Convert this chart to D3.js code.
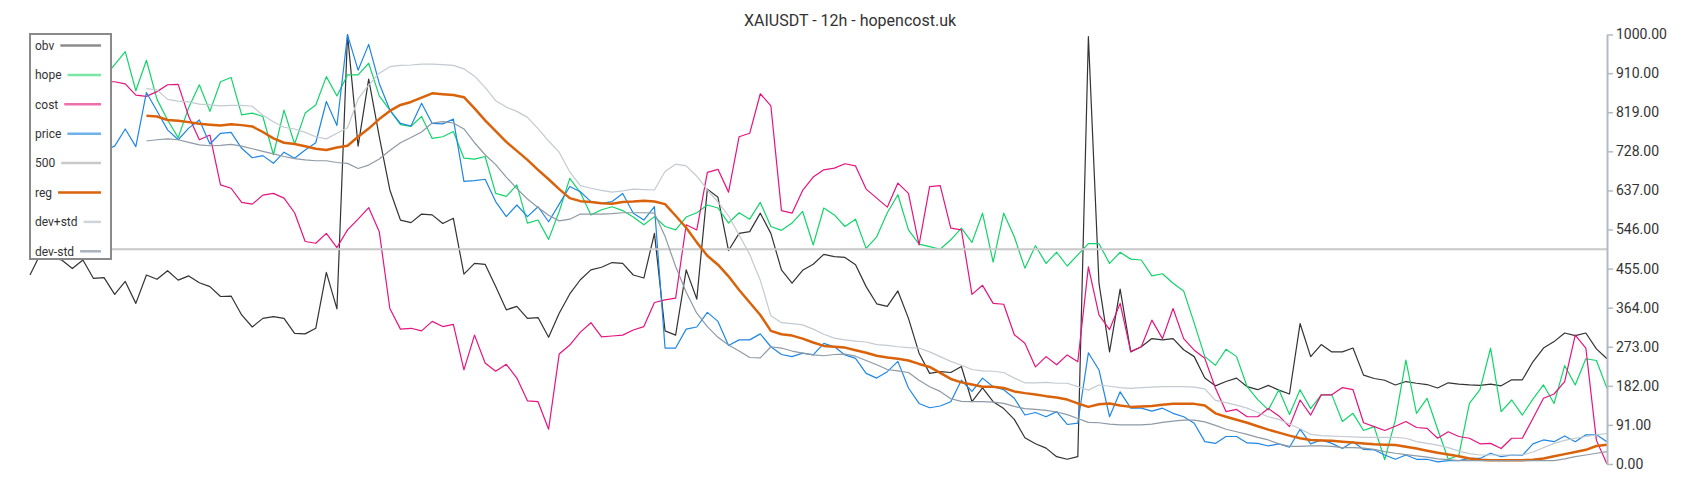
<!DOCTYPE html>
<html><head><meta charset="utf-8">
<script src="https://cdn.jsdelivr.net/npm/d3@7"></script>
<style>body{margin:0;background:#fff}svg{display:block;font-family:Roboto,"Noto Sans",sans-serif}</style>
</head><body><svg id="c" width="1700" height="500"></svg>
<script>
const title = "XAIUSDT - 12h - hopencost.uk";
const obv = [440,490,480,475,455,475,432,434,395,425,
374,440,430,450,428,438,422,413,390,391,
347,319,339,343,339,304,303,316,446,361,
1000,740,896,762,638,568,562,582,580,560,
572,442,467,465,413,359,367,339,341,295,
351,396,429,452,458,469,467,440,433,537,
310,300,452,384,640,621,497,537,541,584,
537,452,421,451,465,488,483,481,464,413,
373,367,403,339,258,211,215,213,227,145,
177,145,129,104,61,47,37,17,11,17,
995,421,261,407,261,273,292,289,292,266,
250,200,182,192,200,180,173,183,172,163,
327,250,278,261,261,270,207,199,195,184,
192,188,185,177,189,186,184,183,186,182,
196,196,238,270,285,305,299,305,268,245];
const hope = [880,900,870,910,860,890,880,900,930,960,
869,940,849,801,760,830,883,821,890,900,
813,817,809,720,824,745,817,836,902,857,
906,906,933,857,824,790,786,809,758,762,
774,712,710,716,630,623,650,561,568,523,
588,665,632,580,592,599,590,575,557,576,
553,545,575,585,603,596,561,585,570,609,
553,544,561,588,510,596,580,553,570,502,
529,585,627,545,512,506,500,522,549,516,
584,470,584,529,456,508,467,493,461,487,
513,513,467,493,477,475,438,443,421,403,
328,250,230,267,250,180,150,126,173,115,
173,129,161,161,99,118,78,87,10,102,
242,118,153,81,11,20,141,173,270,122,
149,114,151,184,141,229,184,245,241,176];
const cost = [870,880,860,890,870,880,875,890,890,885,
859,856,867,883,884,809,755,766,650,642,
609,605,626,630,619,585,518,514,537,504,
545,570,597,541,362,314,316,310,332,320,
325,219,300,235,216,232,200,147,145,81,
256,277,307,329,296,298,300,312,320,376,
382,386,557,545,679,686,633,762,770,862,
834,590,584,637,668,685,689,699,694,640,
619,598,654,630,510,646,648,549,545,395,
416,374,372,301,281,226,250,231,254,238,
459,347,313,374,262,273,335,292,362,292,
265,246,177,122,127,110,110,129,112,87,
149,114,161,161,178,173,96,87,78,88,
99,85,83,60,75,64,60,47,48,36,
60,60,106,153,163,192,300,270,55,0];
const price = [760,780,750,790,770,740,760,730,740,780,
739,865,822,778,755,782,801,745,770,772,
735,713,718,700,726,712,731,748,844,788,
999,917,977,886,824,793,787,840,793,792,
803,658,660,663,611,576,603,576,599,564,
605,646,634,611,607,611,630,584,568,599,
270,270,314,319,353,332,276,289,289,303,
273,255,250,258,254,281,273,254,246,211,
200,215,239,177,141,131,135,145,195,169,
200,180,173,153,114,120,110,122,92,95,
259,219,110,168,130,130,123,130,118,110,
95,52,48,64,64,49,48,42,47,39,
81,47,56,48,36,52,34,33,21,11,
21,11,11,5,8,8,13,13,25,17,
21,20,47,56,52,65,52,68,68,52];
const level500 = 500;
const reg = [null,null,null,null,null,null,null,null,null,null,null,
811,809,801,799,796,792,790,788,791,
789,786,773,758,748,745,740,734,731,737,
741,762,781,803,822,836,843,853,863,861,
859,854,828,800,775,750,729,708,685,663,
640,619,612,610,607,606,610,611,613,611,
605,578,550,516,485,464,437,405,376,347,
310,302,299,292,283,275,273,271,265,259,
252,248,245,241,233,226,212,198,190,185,
180,180,177,169,165,162,158,155,150,141,
133,139,141,136,133,134,135,138,140,140,
140,136,118,110,103,96,88,80,73,66,
60,56,55,54,52,50,48,46,45,44,
40,36,31,26,22,18,13,10,9,9,
9,9,10,13,18,23,28,33,42,45];
const devPlus = [null,null,null,null,null,null,null,null,null,null,null,
874,871,849,845,843,838,836,834,835,
835,833,812,797,784,780,772,762,757,770,
783,850,882,910,925,928,929,931,931,930,
928,920,903,877,846,831,821,807,781,752,
726,680,648,642,637,633,636,640,639,638,
681,698,694,670,638,610,578,533,488,428,
345,329,327,324,314,302,293,289,286,284,
278,276,273,271,270,261,250,239,230,220,
217,216,213,200,189,189,190,188,188,180,
172,184,181,178,176,178,179,180,180,180,
179,175,148,143,137,130,120,110,104,93,
82,69,66,65,64,63,62,62,62,62,
60,52,48,44,38,30,24,21,21,21,
21,21,28,38,48,55,60,64,68,71];
const devMinus = [null,null,null,null,null,null,null,null,null,null,null,
752,755,757,755,749,743,741,742,744,
740,734,728,722,716,711,708,706,706,702,
700,688,696,710,730,748,760,773,794,797,
794,780,748,720,697,668,641,617,597,579,
566,570,582,582,582,583,585,585,585,584,
530,460,400,351,320,295,277,263,248,247,
273,270,263,258,254,252,255,256,251,241,
231,220,217,213,195,180,169,152,146,145,
145,144,141,134,129,127,125,121,115,106,
97,96,93,91,91,91,93,97,100,102,
102,98,90,81,75,69,62,56,47,41,
41,42,42,41,38,38,37,34,29,25,
22,19,16,12,10,8,8,8,8,8,
8,8,8,8,8,12,17,21,25,29];
const tickValues = [0,91,182,273,364,455,546,637,728,819,910,1000];
const legendNames = ["obv","hope","cost","price","500","reg","dev+std","dev-std"];

const svg = d3.select("#c");
const N = obv.length;
const x = d3.scaleLinear().domain([0, N - 1]).range([30, 1607]);
const y = d3.scaleLinear().domain([0, 1000]).range([464, 34.5]);

svg.append("rect").attr("width",1700).attr("height",500).attr("fill","#fff");
svg.append("text").attr("x",850).attr("y",26).attr("text-anchor","middle")
  .attr("font-size",16).attr("fill","#333").text(title);

const line = d3.line().defined(d => d != null).x((d,i) => x(i)).y(d => y(d));
function draw(data, color, w) {
  svg.append("path").datum(data).attr("d", line).attr("fill","none")
    .attr("stroke", color).attr("stroke-width", w).attr("stroke-linejoin","round");
}
draw(obv, "#333333", 1.2);
draw(hope, "#12d46a", 1.2);
draw(cost, "#e5147f", 1.2);
draw(price, "#1e87e5", 1.2);
svg.append("path").datum([0, N - 1])
  .attr("d", d3.line().x(d => x(d)).y(() => y(level500)))
  .attr("fill","none").attr("stroke","#c8c8c8").attr("stroke-width",2);
draw(reg, "#d9620a", 2.5);
draw(devPlus, "#c3cad1", 1.2);
draw(devMinus, "#8e9aa5", 1.2);

const ax = svg.append("g").attr("transform","translate(1607,0)")
  .call(d3.axisRight(y).tickValues(tickValues).tickFormat(d3.format(".2f")).tickSize(6).tickSizeOuter(0));
ax.select(".domain").attr("stroke","#b3bbc2").attr("stroke-width",2);
ax.selectAll(".tick line").attr("stroke","#b3bbc2").attr("stroke-width",1.5);
ax.selectAll(".tick text").attr("fill","#333").attr("font-size",14).attr("font-family","Roboto");

const legendColors = ["#8c8c8c","#7ae6a6","#ee6fae","#6fb1ec","#c8c8c8","#d9620a","#d0d5da","#a9b3bb"];
const lg = svg.append("g");
lg.append("rect").attr("x",30).attr("y",34).attr("width",81).attr("height",225)
  .attr("fill","#fff").attr("stroke","#8a8a8a").attr("stroke-width",2);
legendNames.forEach((n, i) => {
  const yy = 45.5 + i * 29.4;
  const t = lg.append("text").attr("x",35).attr("y",yy).attr("dy","0.35em")
    .attr("font-size",12).attr("fill","#333").text(n);
  const w = t.node().getComputedTextLength();
  lg.append("line").attr("x1",35 + w + 6).attr("x2",101).attr("y1",yy).attr("y2",yy)
    .attr("stroke",legendColors[i]).attr("stroke-width",2.5);
});
</script></body></html>
